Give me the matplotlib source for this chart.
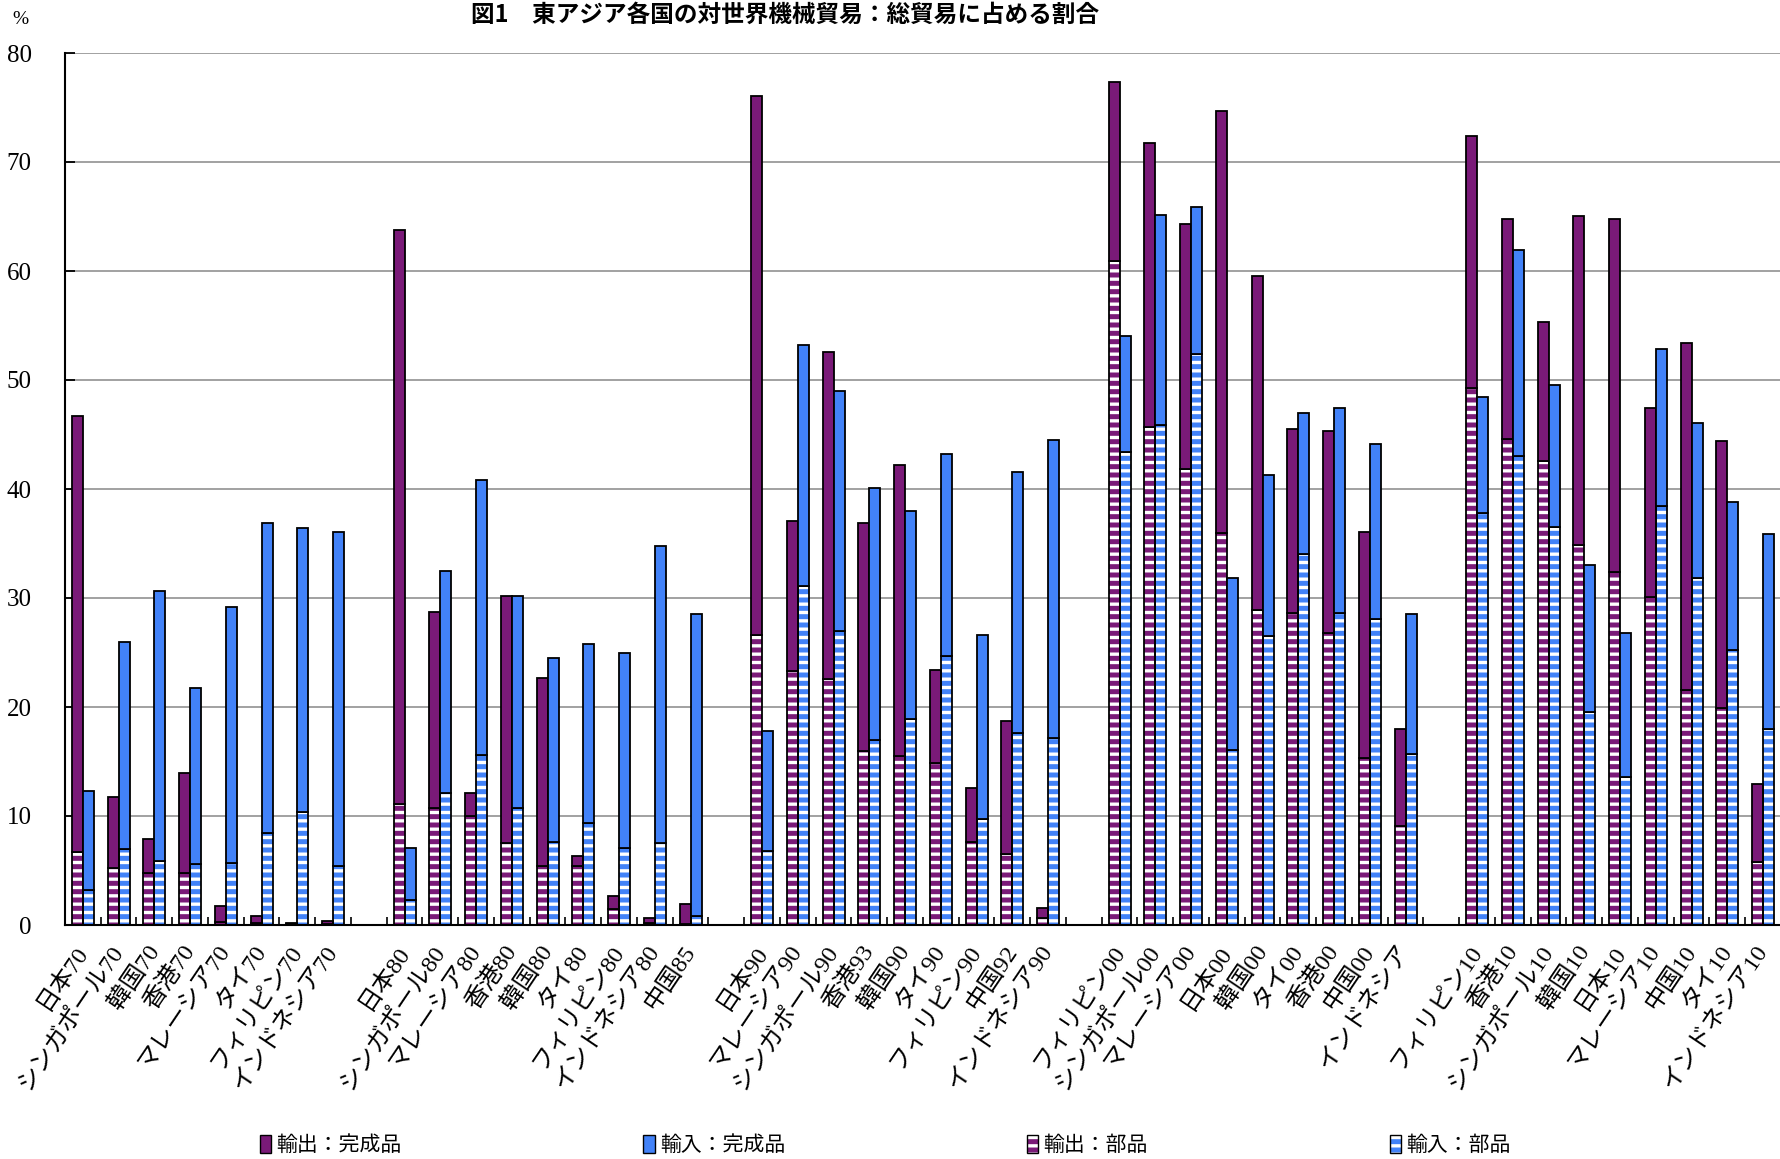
import numpy as np
import matplotlib
matplotlib.use('Agg')
import matplotlib.pyplot as plt
from matplotlib.patches import Patch
from matplotlib.font_manager import FontProperties

plt.rcParams['font.family'] = ['Liberation Serif', 'Noto Sans CJK JP']
plt.rcParams['hatch.linewidth'] = 2.4

# categories (each group of years separated by an empty slot)
labels = ['日本70', 'シンガポール70', '韓国70', '香港70', 'マレーシア70', 'タイ70', 'フィリピン70', 'インドネシア70',
          '日本80', 'シンガポール80', 'マレーシア80', '香港80', '韓国80', 'タイ80', 'フィリピン80', 'インドネシア80', '中国85',
          '日本90', 'マレーシア90', 'シンガポール90', '香港93', '韓国90', 'タイ90', 'フィリピン90', '中国92', 'インドネシア90',
          'フィリピン00', 'シンガポール00', 'マレーシア00', '日本00', '韓国00', 'タイ00', '香港00', '中国00', 'インドネシア',
          'フィリピン10', '香港10', 'シンガポール10', '韓国10', '日本10', 'マレーシア10', '中国10', 'タイ10', 'インドネシア10']
group_sizes = [8, 9, 9, 9, 9]

# % of total trade
export_total = [46.7, 11.7, 7.9, 13.9, 1.75, 0.8, 0.2, 0.36,
                63.8, 28.7, 12.1, 30.2, 22.7, 6.3, 2.7, 0.6, 1.9,
                76.1, 37.1, 52.6, 36.9, 42.2, 23.4, 12.6, 18.7, 1.6,
                77.3, 71.7, 64.3, 74.7, 59.5, 45.5, 45.3, 36.1, 18.0,
                72.4, 64.8, 55.3, 65.0, 64.8, 47.4, 53.4, 44.4, 12.9]
export_parts = [6.7, 5.2, 4.8, 4.8, 0.3, 0.15, 0.05, 0.1,
                11.1, 10.75, 10.0, 7.5, 5.4, 5.4, 1.5, 0.2, 0.1,
                26.6, 23.3, 22.6, 16.0, 15.5, 14.9, 7.6, 6.5, 0.6,
                60.9, 45.7, 41.8, 36.0, 28.9, 28.6, 26.8, 15.3, 9.1,
                49.3, 44.6, 42.6, 34.9, 32.4, 30.1, 21.6, 19.9, 5.8]
import_total = [12.3, 26.0, 30.6, 21.7, 29.2, 36.9, 36.4, 36.1,
                7.1, 32.5, 40.8, 30.2, 24.5, 25.8, 25.0, 34.8, 28.5,
                17.8, 53.2, 49.0, 40.1, 38.0, 43.2, 26.6, 41.6, 44.5,
                54.0, 65.1, 65.9, 31.8, 41.3, 47.0, 47.4, 44.1, 28.5,
                48.4, 61.9, 49.5, 33.0, 26.8, 52.8, 46.1, 38.8, 35.9]
import_parts = [3.2, 6.95, 5.9, 5.6, 5.7, 8.4, 10.4, 5.4,
                2.3, 12.1, 15.6, 10.75, 7.6, 9.4, 7.1, 7.5, 0.8,
                6.75, 31.1, 27.0, 17.0, 18.9, 24.7, 9.7, 17.6, 17.2,
                43.4, 45.9, 52.4, 16.1, 26.5, 34.0, 28.6, 28.1, 15.7,
                37.8, 43.0, 36.5, 19.5, 13.6, 38.4, 31.8, 25.2, 18.0]

legend_labels = ['輸出：完成品', '輸入：完成品', '輸出：部品', '輸入：部品']
purple = '#7A1A78'
blue = '#4282F8'

# slot positions, one empty slot between groups
pos = []
start = 0
for n in group_sizes:
    pos += list(range(start, start + n))
    start += n + 1
pos = np.array(pos)
nslots = start - 1

ex_t = np.array(export_total)
ex_p = np.array(export_parts)
im_t = np.array(import_total)
im_p = np.array(import_parts)

fig = plt.figure(figsize=(17.81, 11.59), dpi=100)
ax = fig.add_axes([65 / 1781, 234 / 1159, 1 - 65 / 1781, (925 - 53) / 1159])

w = 0.31
lw = 1.3
for x, col, tot, parts in [(pos - w / 2, purple, ex_t, ex_p), (pos + w / 2, blue, im_t, im_p)]:
    # parts: colour with white horizontal stripes
    ax.bar(x, parts, w, color=col, edgecolor='white', hatch='--', linewidth=0, zorder=2)
    ax.bar(x, parts, w, fill=False, edgecolor='black', linewidth=lw, zorder=3)
    # finished goods on top
    ax.bar(x, tot - parts, w, bottom=parts, color=col, edgecolor='black', linewidth=lw, zorder=3)

ax.set_xlim(-0.5, nslots - 0.5)
ax.set_ylim(0, 80)
ax.set_yticks(range(0, 81, 10))
ax.yaxis.grid(True, color='#9a9a9a', linewidth=1.3)
ax.set_axisbelow(True)

ax.set_xticks(pos)
ax.set_xticklabels(labels, rotation=56, ha='right', va='center', rotation_mode='anchor', fontsize=17.5)
ax.set_xticks(np.arange(-0.5, nslots, 1), minor=True)
ax.tick_params(axis='x', which='major', length=0, pad=16)
ax.tick_params(axis='x', which='minor', direction='in', length=6, width=1.2)
ax.tick_params(axis='y', direction='in', length=7, width=1.3, pad=24, labelsize=18)

for s in ['top', 'right']:
    ax.spines[s].set_visible(False)
for s in ['left', 'bottom']:
    ax.spines[s].set_linewidth(1.5)

fig.text(20 / 1781, 1 - 20 / 1159, '%', fontsize=14, ha='center', va='center')
fig.text(785 / 1781, 1 - 15 / 1159, '図1　東アジア各国の対世界機械貿易：総貿易に占める割合',
         fontsize=17, fontweight='bold', family=['Noto Sans CJK JP'], ha='center', va='center')

handles = [Patch(facecolor=purple, edgecolor='black', linewidth=1),
           Patch(facecolor=blue, edgecolor='black', linewidth=1),
           (Patch(facecolor=purple, edgecolor='white', hatch='--', linewidth=0),
            Patch(fill=False, edgecolor='black', linewidth=1)),
           (Patch(facecolor=blue, edgecolor='white', hatch='--', linewidth=0),
            Patch(fill=False, edgecolor='black', linewidth=1))]
fig.legend(handles, legend_labels, ncol=4, loc='center', bbox_to_anchor=(0.497, 1 - 1145 / 1159),
           frameon=False, handlelength=0.55, handleheight=1.0, handletextpad=0.25, columnspacing=11.6,
           prop=FontProperties(family=['Noto Sans CJK JP'], size=15))

fig.savefig('out.png', dpi=100)
